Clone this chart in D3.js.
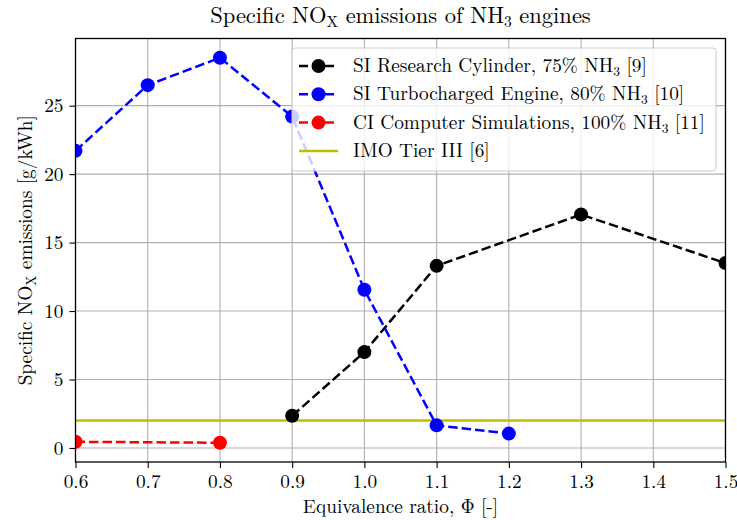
<!DOCTYPE html>
<html>
<head>
<meta charset="utf-8">
<script src="https://cdn.jsdelivr.net/npm/d3@7"></script>
<style>
  body { margin: 0; background: #fff; }
  svg text { font-family: "Latin Modern Roman", "CMU Serif", "Liberation Serif", "DejaVu Serif", serif; fill: #000; }
</style>
</head>
<body>
<svg id="chart" width="737" height="520"></svg>
<script>
// data
var phiSI75 = [0.9, 1.0, 1.1, 1.3, 1.5];
var noxSI75 = [2.35, 7.0, 13.3, 17.05, 13.5];
var phiSI80 = [0.6, 0.7, 0.8, 0.9, 1.0, 1.1, 1.2];
var noxSI80 = [21.7, 26.5, 28.5, 24.2, 11.55, 1.65, 1.05];
var phiCI = [0.6, 0.8];
var noxCI = [0.45, 0.38];
var imoLimit = 2.0;
var xTicks = [0.6, 0.7, 0.8, 0.9, 1.0, 1.1, 1.2, 1.3, 1.4, 1.5];
var yTicks = [0, 5, 10, 15, 20, 25];

var series = [
  { name: "SI Research Cylinder, 75% NH", sub: "3", ref: " [9]", x: phiSI75, y: noxSI75, color: "#000000" },
  { name: "SI Turbocharged Engine, 80% NH", sub: "3", ref: " [10]", x: phiSI80, y: noxSI80, color: "#0000ff" },
  { name: "CI Computer Simulations, 100% NH", sub: "3", ref: " [11]", x: phiCI, y: noxCI, color: "#ff0000" }
];

var svg = d3.select("#chart");
var pLeft = 75.5, pRight = 725.5, pTop = 38.5, pBottom = 462;
var fs = "19.3px", fsSub = "13.5px";
var lw = 2.5, dash = "9.5,4", mr = 7;

var x = d3.scaleLinear().domain([0.6, 1.5]).range([pLeft, pRight]);

// matplotlib style 5% margin on y
var allY = noxSI75.concat(noxSI80, noxCI, [imoLimit]);
var ymin = d3.min(allY), ymax = d3.max(allY), pad = (ymax - ymin) * 0.05;
var y = d3.scaleLinear().domain([ymin - pad, ymax + pad]).range([pBottom, pTop]);

// grid
var grid = svg.append("g");
grid.selectAll("line.vx").data(xTicks).enter().append("line")
  .attr("x1", function(d) { return x(d); }).attr("x2", function(d) { return x(d); })
  .attr("y1", pTop).attr("y2", pBottom)
  .attr("stroke", "#b0b0b0").attr("stroke-width", 1.1);
grid.selectAll("line.hy").data(yTicks).enter().append("line")
  .attr("y1", function(d) { return y(d); }).attr("y2", function(d) { return y(d); })
  .attr("x1", pLeft).attr("x2", pRight)
  .attr("stroke", "#b0b0b0").attr("stroke-width", 1.1);

var plot = svg.append("g");
svg.append("clipPath").attr("id", "clip").append("rect")
  .attr("x", pLeft).attr("y", pTop).attr("width", pRight - pLeft).attr("height", pBottom - pTop);

// IMO Tier III line
plot.append("line")
  .attr("x1", pLeft).attr("x2", pRight)
  .attr("y1", y(imoLimit)).attr("y2", y(imoLimit))
  .attr("stroke", "#bfbf00").attr("stroke-width", lw);

var line = d3.line()
  .x(function(d) { return x(d[0]); })
  .y(function(d) { return y(d[1]); });

series.forEach(function(s) {
  var pts = d3.zip(s.x, s.y);
  plot.append("path")
    .datum(pts)
    .attr("d", line)
    .attr("fill", "none")
    .attr("stroke", s.color)
    .attr("stroke-width", lw)
    .attr("stroke-dasharray", dash);
  plot.append("g").attr("clip-path", "url(#clip)")
    .selectAll("circle").data(pts).enter().append("circle")
    .attr("cx", function(d) { return x(d[0]); })
    .attr("cy", function(d) { return y(d[1]); })
    .attr("r", mr)
    .attr("fill", s.color);
});

// axes
var xAxis = svg.append("g").attr("transform", "translate(0," + pBottom + ")")
  .call(d3.axisBottom(x).tickValues(xTicks).tickFormat(d3.format(".1f")).tickSizeOuter(0).tickSize(6));
var yAxis = svg.append("g").attr("transform", "translate(" + pLeft + ",0)")
  .call(d3.axisLeft(y).tickValues(yTicks).tickSizeOuter(0).tickSize(6));
[xAxis, yAxis].forEach(function(a) {
  a.select(".domain").remove();
  a.selectAll("text").style("font-size", fs).style("font-family", null).attr("fill", null);
  a.selectAll(".tick line").attr("stroke", "#000").attr("stroke-width", 1.1);
});
xAxis.selectAll("text").attr("y", 12).attr("dy", "0.71em");
yAxis.selectAll("text").attr("x", -12);

svg.append("rect")
  .attr("x", pLeft).attr("y", pTop).attr("width", pRight - pLeft).attr("height", pBottom - pTop)
  .attr("fill", "none").attr("stroke", "#000").attr("stroke-width", 1.3);

// title
var title = svg.append("text")
  .attr("x", (pLeft + pRight) / 2).attr("y", 23)
  .attr("text-anchor", "middle").style("font-size", "22.5px");
title.append("tspan").text("Specific NO");
title.append("tspan").text("X").attr("baseline-shift", "-25%").style("font-size", "15.5px");
title.append("tspan").text(" emissions of NH");
title.append("tspan").text("3").attr("baseline-shift", "-25%").style("font-size", "15.5px");
title.append("tspan").text(" engines");

// x label
svg.append("text")
  .attr("x", (pLeft + pRight) / 2).attr("y", 513)
  .attr("text-anchor", "middle").style("font-size", fs)
  .text("Equivalence ratio, \u03a6 [-]");

// y label
var ylab = svg.append("text")
  .attr("transform", "translate(32," + ((pTop + pBottom) / 2) + ") rotate(-90)")
  .attr("text-anchor", "middle").style("font-size", fs);
ylab.append("tspan").text("Specific NO");
ylab.append("tspan").text("X").attr("baseline-shift", "-25%").style("font-size", fsSub);
ylab.append("tspan").text(" emissions [g/kWh]");

// legend
var lg = svg.append("g");
lg.append("rect")
  .attr("x", 292).attr("y", 48).attr("width", 424).attr("height", 123)
  .attr("rx", 3).attr("fill", "#fff").attr("fill-opacity", 0.8)
  .attr("stroke", "#cccccc").attr("stroke-width", 1);
var entries = series.concat([{ name: "IMO Tier III [6]", color: "#bfbf00", imo: true }]);
entries.forEach(function(s, i) {
  var cy = 66 + i * 28.3;
  var row = lg.append("g");
  row.append("line")
    .attr("x1", 299).attr("x2", 338).attr("y1", cy).attr("y2", cy)
    .attr("stroke", s.color).attr("stroke-width", lw)
    .attr("stroke-dasharray", s.imo ? null : "9,4");
  if (!s.imo) {
    row.append("circle").attr("cx", 318.5).attr("cy", cy).attr("r", mr).attr("fill", s.color);
  }
  var t = row.append("text").attr("x", 353).attr("y", cy + 6).style("font-size", fs);
  t.append("tspan").text(s.name);
  if (s.sub) {
    t.append("tspan").text(s.sub).attr("baseline-shift", "-25%").style("font-size", fsSub);
    t.append("tspan").text(s.ref);
  }
});
</script>
</body>
</html>
